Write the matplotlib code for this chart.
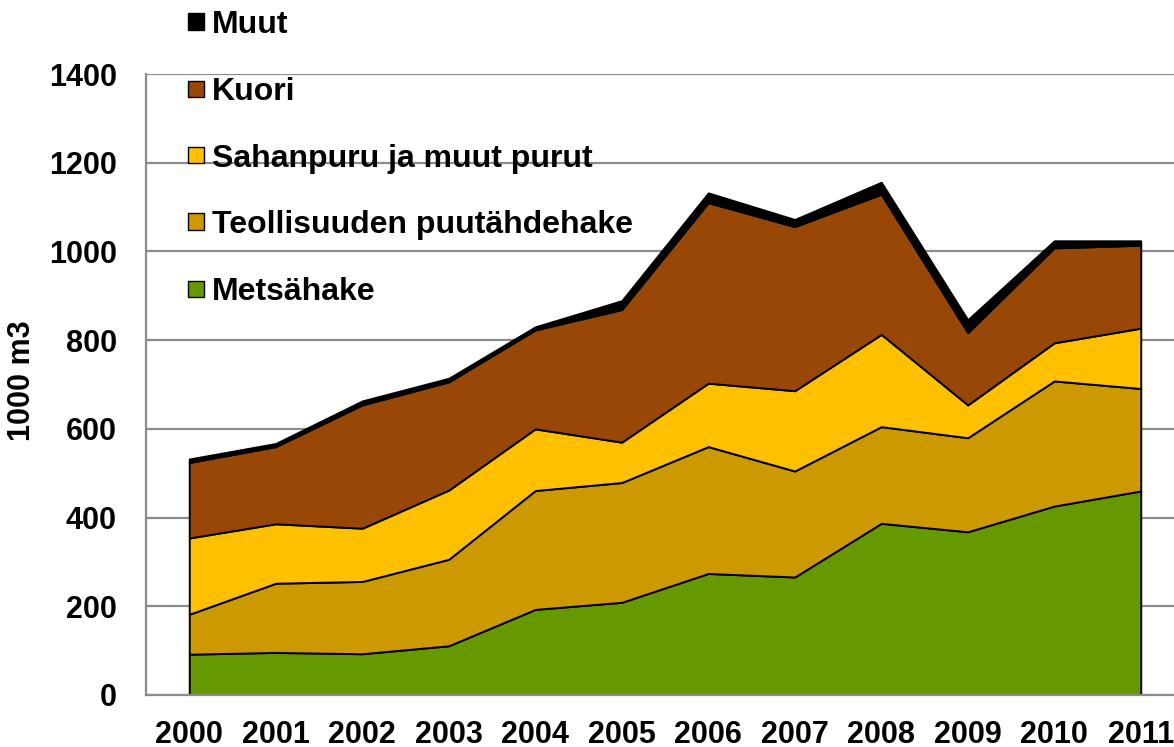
import matplotlib
matplotlib.use("Agg")
import matplotlib.pyplot as plt
from matplotlib.patches import Rectangle

# ================= data (1000 m3) =================
YEARS = ["2000", "2001", "2002", "2003", "2004", "2005",
         "2006", "2007", "2008", "2009", "2010", "2011"]

METSAHAKE = [92, 96, 93, 111, 193, 209, 274, 266, 387, 368, 426, 460]
TEOLLISUUS = [90, 156, 163, 195, 268, 270, 286, 239, 218, 212, 282, 231]
SAHANPURU = [172, 134, 120, 156, 139, 91, 143, 181, 208, 74, 86, 136]
KUORI = [170, 174, 278, 244, 223, 299, 407, 370, 316, 163, 214, 187]
MUUT = [8, 7, 9, 8, 7, 20, 22, 16, 27, 29, 16, 10]

LABELS = ["Metsähake", "Teollisuuden puutähdehake", "Sahanpuru ja muut purut",
          "Kuori", "Muut"]
COLORS = ["#669900", "#CC9900", "#FFC000", "#994706", "#000000"]

Y_TICKS = [0, 200, 400, 600, 800, 1000, 1200, 1400]

# ================= style =================
W, H = 1174, 747
DPI = 100
FONT = "Liberation Sans"
FS = 22
FS_LEGEND = 23
GRID_COLOR = "#8c8c8c"


def fx(px):
    return px / W


def fy(py):
    return 1 - py / H


def main():
    fig = plt.figure(figsize=(W / DPI, H / DPI), dpi=DPI)
    # axes run slightly past the right edge, like the cropped original
    ax = fig.add_axes([fx(146), fy(695), fx(1184 - 146), (695 - 74) / H])

    x = list(range(len(YEARS)))
    ax.stackplot(x, METSAHAKE, TEOLLISUUS, SAHANPURU, KUORI, MUUT,
                 colors=COLORS, edgecolor="black", linewidth=1.4)

    ax.set_xlim(-0.5, len(YEARS) - 0.5)
    ax.set_ylim(0, 1400)
    ax.set_yticks(Y_TICKS)
    ax.set_xticks(x)
    ax.set_xticklabels(YEARS)

    ax.set_axisbelow(True)
    ax.yaxis.grid(True, color=GRID_COLOR, linewidth=1.6)
    for s in ["top", "right"]:
        ax.spines[s].set_visible(False)
    for s in ["left", "bottom"]:
        ax.spines[s].set_color(GRID_COLOR)
        ax.spines[s].set_linewidth(1.6)
        ax.spines[s].set_zorder(5)

    ax.tick_params(axis="y", length=0, pad=21)
    ax.tick_params(axis="x", length=0, pad=18)
    for lab in ax.get_xticklabels() + ax.get_yticklabels():
        lab.set_fontfamily(FONT)
        lab.set_fontweight("bold")
        lab.set_fontsize(FS)

    fig.text(fx(22), fy(381), "1000 m3", rotation=90, ha="center", va="center",
             fontsize=FS, fontweight="bold", family=FONT)

    # legend, reversed order, drawn by hand over the plot
    legend_y = [288.5, 221.5, 155, 89, 21.5]
    size = 16
    for label, color, ly in zip(LABELS, COLORS, legend_y):
        fig.add_artist(Rectangle((fx(188), fy(ly + size / 2)), size / W, size / H,
                                 transform=fig.transFigure, facecolor=color,
                                 edgecolor="black", linewidth=1.0, zorder=10))
        fig.text(fx(212), fy(ly), label, ha="left", va="center_baseline",
                 fontsize=FS_LEGEND, fontweight="bold", family=FONT, zorder=10)

    fig.savefig("out.png", dpi=DPI)


if __name__ == "__main__":
    main()
